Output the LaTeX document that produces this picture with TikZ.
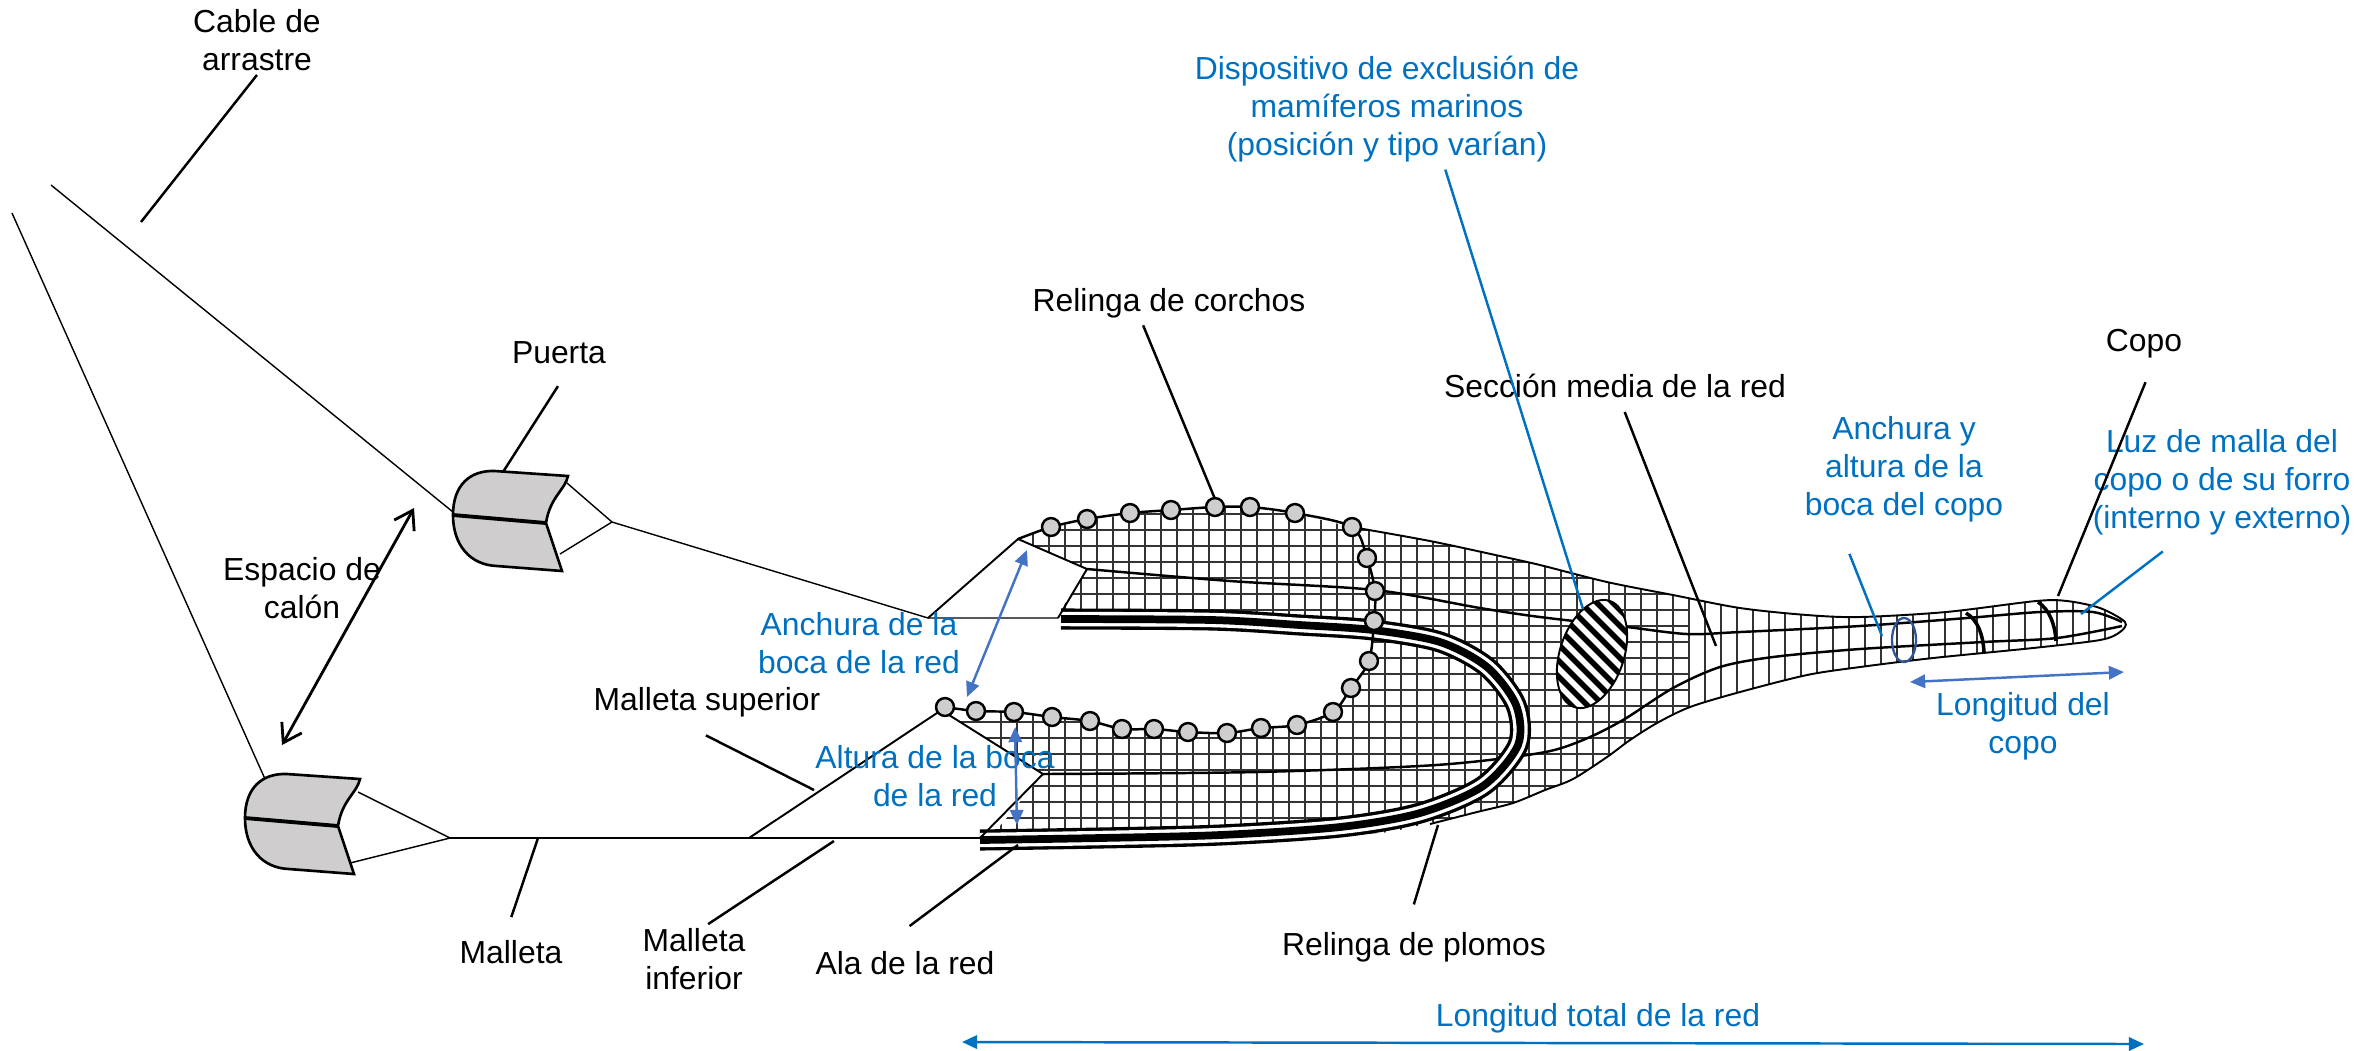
\documentclass[tikz,border=0pt]{standalone}
\usepackage{fontspec}
\setmainfont{Liberation Sans}
\usetikzlibrary{arrows.meta}
\definecolor{azul}{HTML}{0070C0}
\definecolor{azulflecha}{HTML}{4472C4}
\definecolor{azulanillo}{HTML}{2F5597}
\definecolor{gris}{HTML}{CFCDCD}
\tikzset{
    fino/.style={draw=black, line width=0.4pt},
    linea/.style={draw=black, line width=0.7pt},
    guia/.style={draw=azul, line width=0.7pt},
    borde/.style={draw=black, line width=0.55pt},
    costura/.style={draw=black, line width=0.7pt},
    malla/.style={draw=black!80, line width=0.55pt},
    corcho/.style={circle, draw=black, line width=0.7pt, fill=gris, minimum size=5.1pt, inner sep=0},
    rotulo/.style={align=center, inner sep=1pt, font=\fontsize{9.06}{10.8}\selectfont},
    rotuloazul/.style={rotulo, text=azul},
    medida/.style={draw=azulflecha, line width=0.7pt, {Triangle[length=4.3pt,width=3.8pt]}-{Triangle[length=4.3pt,width=3.8pt]}},
    medidatotal/.style={medida, draw=azul},
    calon/.style={draw=black, line width=0.8pt, {Straight Barb[length=5pt,width=6.5pt]}-{Straight Barb[length=5pt,width=6.5pt]}},
    puerta/.pic={
        \draw[line width=0.75pt, fill=gris] (0,0) .. controls (0,-30) and (17,-45) .. (42,-44) -- (115,-39)
            .. controls (112,-25) and (97,-18) .. (93,8) -- (109,56) -- (44,51)
            .. controls (17,50) and (0,30) .. (0,0) -- cycle;
        \draw[line width=1.1pt] (0,0) -- (93,8);
    }
}

\begin{document}
\begin{tikzpicture}[x=0.01cm, y=-0.01cm]
    \useasboundingbox (0,0) rectangle (2372,1050);

    \begin{scope}
        \clip (1018,539) -- (1051,528) -- (1087,520) -- (1130,514) -- (1171,511) -- (1215,508) -- (1250,508) -- (1295,514)
            -- (1352,527) -- (1430,541) -- (1500,556) -- (1540,565) -- (1607,582) -- (1673,595) -- (1740,608) -- (1807,615)
            -- (1860,617) -- (1946,612) -- (2036,601) -- (2067,601) -- (2100,608) -- (2125,622) -- (2120,632) -- (2100,640)
            -- (2033,648) -- (1933,658) -- (1860,667) -- (1807,675) -- (1740,692) -- (1690,707) -- (1657,723) -- (1630,740)
            -- (1607,757) -- (1573,779) -- (1545,790) -- (1513,803) -- (1477,812) -- (1391,832) -- (1250,843) -- (1133,847)
            -- (980,850) -- (1043,774) -- (949,715) -- (976,711) -- (1014,712) -- (1052,717) -- (1090,721) -- (1122,729)
            -- (1154,729) -- (1188,732) -- (1227,733) -- (1261,728) -- (1297,725) -- (1333,712) -- (1351,688) -- (1369,661)
            -- (1375,630) -- (1212,610) -- (1061,610) -- (1087,569) -- cycle;
        \foreach \mx in {1001,1017,...,2105}
            \draw[malla] (\mx,500) -- (\mx,860);
        \foreach \my in {514,530,...,850}
            \draw[malla] (940,\my) -- (1690,\my);
    \end{scope}

    \draw[costura] plot[smooth] coordinates {(1087,569) (1230,581) (1375,590) (1480,608) (1540,617) (1627,627) (1687,634)
        (1740,632) (1860,626) (1967,618) (2040,612) (2093,612) (2122,622)};
    \draw[costura] plot[smooth] coordinates {(1043,774) (1257,772) (1436,765) (1540,753) (1583,740) (1623,720) (1673,688)
        (1720,667) (1773,657) (1860,649) (1983,642) (2057,638) (2122,626)};
    \draw[borde] plot[smooth] coordinates {(1352,527) (1430,541) (1500,556) (1540,565) (1607,582) (1673,595) (1740,608)
        (1807,615) (1860,617) (1946,612) (2036,601) (2067,601) (2100,608) (2125,622) (2120,632) (2100,640) (2033,648)
        (1933,658) (1860,667) (1807,675) (1740,692) (1690,707) (1657,723) (1630,740) (1607,757) (1573,779) (1545,790)
        (1513,803) (1477,812) (1430,824)};

    \foreach \ancho/\tinta in {6/black, 4.1/white, 2.2/black}
        \draw[draw=\tinta, line width=\ancho pt] plot[smooth] coordinates {(980,840) (1100,838) (1220,835) (1340,827)
            (1420,813) (1483,786) (1518,745) (1516,705) (1487,667) (1440,642) (1373,630) (1300,625) (1212,620) (1061,619)};

    \coordinate (cableA) at (51,185);
    \coordinate (cableB) at (12,213);
    \coordinate (puertaA) at (453,515);
    \coordinate (puertaB) at (245,818);
    \coordinate (ataA) at (453,512);
    \coordinate (ataB) at (265,779);
    \coordinate (patasA) at (612,522);
    \coordinate (patasB) at (450,838);
    \coordinate (patasA1) at (567,483);
    \coordinate (patasA2) at (560,554);
    \coordinate (patasB1) at (358,792);
    \coordinate (patasB2) at (350,863);
    \coordinate (cruceA) at (928,618);
    \coordinate (cruceB) at (749,838);
    \coordinate (finA) at (1058,618);
    \coordinate (finB) at (980,838);
    \coordinate (puntaA) at (1018,539);
    \coordinate (puntaB) at (949,715);
    \coordinate (esquinaA) at (1087,569);
    \coordinate (esquinaB) at (1043,774);

    \pic at (puertaA) {puerta};
    \pic at (puertaB) {puerta};
    \draw[fino] (cableA) -- (ataA);
    \draw[fino] (cableB) -- (ataB);
    \draw[fino] (patasA1) -- (patasA) -- (patasA2);
    \draw[fino] (patasB1) -- (patasB) -- (patasB2);
    \draw[fino] (patasA) -- (cruceA) -- (finA);
    \draw[fino] (patasB) -- (finB);
    \draw[borde] (cruceA) -- (puntaA) -- (esquinaA) -- (finA);
    \draw[borde] (cruceB) -- (946,707);
    \draw[borde] (puntaB) -- (esquinaB) -- (finB);

    \foreach \cx/\cy [count=\i] in {1051/527, 1087/519, 1130/513, 1171/510, 1215/507, 1250/507, 1295/513, 1352/527,
        1367/558, 1375/591, 1374/621, 1369/661, 1351/688, 1333/712, 1297/725, 1261/728, 1227/733, 1188/732,
        1154/729, 1122/729, 1090/721, 1052/717, 1014/712, 976/711, 945/707}
        \coordinate (p\i) at (\cx,\cy);
    \draw[linea] plot[smooth] coordinates {(puntaA) (p1) (p2) (p3) (p4) (p5) (p6) (p7) (p8) (p9) (p10) (p11) (p12) (p13)
        (p14) (p15) (p16) (p17) (p18) (p19) (p20) (p21) (p22) (p23) (p24) (p25)};
    \foreach \i in {1,...,25}
        \node[corcho] (corcho\i) at (p\i) {};

    \begin{scope}
        \clip[rotate around={-18.5:(1592,654)}] (1592,654) ellipse (32 and 56);
        \fill[white] (1540,590) rectangle (1640,720);
        \foreach \s in {-72,-56,...,72}
            \draw[black, line width=1.6pt] (1592-70,654+\s-70) -- (1592+70,654+\s+70);
    \end{scope}
    \draw[borde, rotate around={-18.5:(1592,654)}] (1592,654) ellipse (32 and 56);

    \draw[draw=black, line width=1pt] (1966,613) .. controls (1978,620) and (1983,635) .. (1984,652);
    \draw[draw=black, line width=1pt] (2038,602) .. controls (2050,610) and (2055,625) .. (2056,641);
    \draw[draw=azulanillo, line width=0.65pt] (1904,640) ellipse (12 and 22);

    \node[rotulo] (cable) at (257,40) {Cable de\\arrastre};
    \node[rotulo] (lpuerta) at (559,353) {Puerta};
    \node[rotulo] (espacio) at (302,588) {Espacio de\\calón};
    \node[rotulo] (corchos) at (1169,303) {Relinga de corchos};
    \node[rotulo] (seccion) at (1615,386) {Sección media de la red};
    \node[rotulo] (copo) at (2144,344) {Copo};
    \node[rotulo] (msuperior) at (707,702) {Malleta superior};
    \node[rotulo] (malleta) at (511,952) {Malleta};
    \node[rotulo] (minferior) at (694,959) {Malleta\\inferior};
    \node[rotulo] (ala) at (905,963) {Ala de la red};
    \node[rotulo] (plomos) at (1414,947) {Relinga de plomos};
    \node[rotuloazul] (dispositivo) at (1387,109) {Dispositivo de exclusión de\\mamíferos marinos\\(posición y tipo varían)};
    \node[rotuloazul] (bocacopo) at (1904,469) {Anchura y\\altura de la\\boca del copo};
    \node[rotuloazul] (luz) at (2222,482) {Luz de malla del\\copo o de su forro\\(interno y externo)};
    \node[rotuloazul] (lcopo) at (2023,726) {Longitud del\\copo};
    \node[rotuloazul] (anchura) at (859,643) {Anchura de la\\boca de la red};
    \node[rotuloazul] (altura) at (935,776) {Altura de la boca\\de la red};
    \node[rotuloazul] (ltotal) at (1598,1018) {Longitud total de la red};

    \coordinate (cableF) at (141,222);
    \coordinate (puertaF) at (503,472);
    \coordinate (corchosF) at (1215,499);
    \coordinate (seccionF) at (1716,646);
    \coordinate (copoF) at (2058,596);
    \coordinate (msuperiorF) at (814,790);
    \coordinate (malletaF) at (538,838);
    \coordinate (minferiorF) at (834,841);
    \coordinate (alaF) at (1018,845);
    \coordinate (plomosF) at (1438,825);
    \coordinate (dispositivoF) at (1583,609);
    \coordinate (bocacopoF) at (1882,636);
    \coordinate (luzF) at (2081,614);

    \draw[linea] (cable.south) -- (cableF);
    \draw[linea, shorten <=6pt] (lpuerta.-56) -- (puertaF);
    \draw[linea, shorten <=1pt] (corchos.-145) -- (corchosF);
    \draw[linea, shorten <=3pt] (seccion.-70) -- (seccionF);
    \draw[linea, shorten <=6pt] (copo.-63) -- (copoF);
    \draw[linea, shorten <=9pt] (msuperior.-147) -- (msuperiorF);
    \draw[linea, shorten <=5.7pt] (malleta.111) -- (malletaF);
    \draw[linea] (minferior.68) -- (minferiorF);
    \draw[linea, shorten <=10pt] (ala.146) -- (alaF);
    \draw[linea, shorten <=7pt] (plomos.111) -- (plomosF);
    \draw[guia, shorten <=1pt] (dispositivo.-45) -- (dispositivoF);
    \draw[guia, shorten <=8.5pt] (bocacopo.-139) -- (bocacopoF);
    \draw[guia, shorten <=5.8pt] (luz.-127) -- (luzF);

    \coordinate (anchuraA) at (1027,550);
    \coordinate (anchuraB) at (967,697);
    \coordinate (alturaA) at (1015,727);
    \coordinate (alturaB) at (1017,825);
    \coordinate (lcopoA) at (1910,682);
    \coordinate (lcopoB) at (2124,672);
    \coordinate (ltotalA) at (962,1042);
    \coordinate (ltotalB) at (2144,1044);
    \coordinate (calonA) at (414,508);
    \coordinate (calonB) at (282,745);

    \draw[medida] (anchuraA) -- (anchuraB);
    \draw[medida] (alturaA) -- (alturaB);
    \draw[medida] (lcopoA) -- (lcopoB);
    \draw[medidatotal] (ltotalA) -- (ltotalB);
    \draw[calon] (calonA) -- (calonB);
\end{tikzpicture}
\end{document}
